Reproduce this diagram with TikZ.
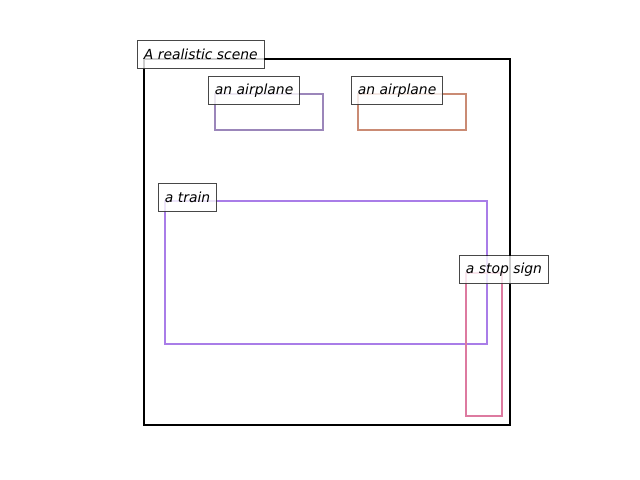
\documentclass[tikz,border=0pt]{standalone}
\usepackage{fontspec}
\setmainfont{DejaVu Sans}
\begin{document}
\begin{tikzpicture}[x=0.72pt,y=-0.72pt,
  lbl/.style={anchor=north west, draw=black, draw opacity=0.72, fill=white, fill opacity=0.8, text opacity=1,
    line width=0.8pt, inner xsep=4.6pt, inner ysep=0pt, minimum height=20.2pt, font=\fontsize{10}{12}\selectfont\itshape},
  bx/.style={line width=1.8pt}]
\useasboundingbox (0,0) rectangle (640,480);
\definecolor{cplane1}{HTML}{9B86BA}
\definecolor{cplane2}{HTML}{CA8B74}
\definecolor{ctrain}{HTML}{A97DE8}
\definecolor{cstop}{HTML}{DD7AA0}
\draw[line width=1.6pt, black] (144,59) rectangle (510,425);
\draw[bx, cplane1] (215,94) rectangle (323,130);
\draw[bx, cplane2] (358,94) rectangle (466,130);
\draw[bx, ctrain] (165,201) rectangle (487,344);
\draw[bx, cstop] (466,273) rectangle (502,416);
\node[lbl] (scene) at (137,40) {A realistic scene};
\node[lbl] (p1) at (208,76) {an airplane};
\node[lbl] (p2) at (351,76) {an airplane};
\node[lbl] (train) at (158,183) {a train};
\node[lbl] (stop) at (459,255) {a stop sign};
\end{tikzpicture}
\end{document}
